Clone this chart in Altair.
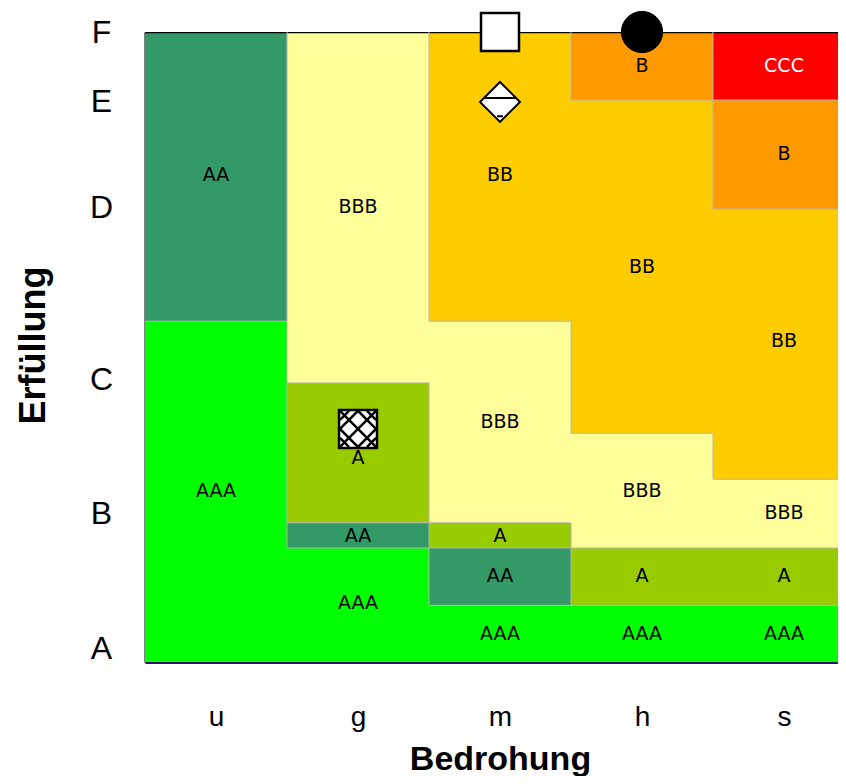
import altair as alt
import pandas as pd

# ---- data ----
threats = ["u", "g", "m", "h", "s"]                 # Bedrohung
grades = ["A", "B", "C", "D", "E", "F"]             # Erfüllung
grade_pos = [2.1, 23.5, 44.9, 72.2, 88.9, 100]      # position of grade ticks on the Erfüllung scale

cell_threat = ["u", "u",
               "g", "g", "g", "g",
               "m", "m", "m", "m", "m",
               "h", "h", "h", "h", "h",
               "s", "s", "s", "s", "s", "s"]
cell_lo = [0, 54.1,
           0, 18.1, 22.1, 44.3,
           0, 9.0, 18.1, 22.1, 54.1,
           0, 9.0, 18.1, 36.3, 89.2,
           0, 9.0, 18.1, 29.0, 71.9, 89.2]
cell_hi = [54.1, 100,
           18.1, 22.1, 44.3, 100,
           9.0, 18.1, 22.1, 54.1, 100,
           9.0, 18.1, 36.3, 89.2, 100,
           9.0, 18.1, 29.0, 71.9, 89.2, 100]
cell_rating = ["AAA", "AA",
               "AAA", "AA", "A", "BBB",
               "AAA", "AA", "A", "BBB", "BB",
               "AAA", "A", "BBB", "BB", "B",
               "AAA", "A", "BBB", "BB", "B", "CCC"]
label_y = [27.1, 77.3,
           9.4, 20.0, 32.4, 72.2,
           4.4, 13.7, 20.0, 38.1, 77.3,
           4.4, 13.7, 27.1, 62.7, 94.6,
           4.4, 13.7, 23.7, 51.0, 80.6, 94.6]

ratings = ["AAA", "AA", "A", "BBB", "BB", "B", "CCC"]
rating_colors = ["#00FF00", "#339966", "#99CC00", "#FFFF99", "#FFCC00", "#FF9900", "#FF0000"]

marker_threat = ["m", "h", "m", "g"]
marker_y = [100, 100, 88.9, 37.0]
marker_kind = ["square", "circle", "diamond", "hatched"]

Y_TOP = 100

# ---- tables ----
cells = pd.DataFrame({
    "threat": cell_threat, "lo": cell_lo, "hi": cell_hi,
    "rating": cell_rating, "ly": label_y,
})
cells["x0"] = cells["threat"].map(threats.index).astype(float)
cells["x1"] = cells["x0"] + 1
cells["xc"] = cells["x0"] + 0.5

# boundaries between differently rated regions (derived from the cells)
segs = []
for _, r in cells.iterrows():
    segs.append({"sx": r.x0, "sx2": r.x1, "sy": r.hi, "sy2": r.hi,
                 "kind": "frame" if r.hi >= Y_TOP else "inner"})


def rating_at(t, y):
    sub = cells[(cells.threat == t) & (cells.lo <= y) & (cells.hi > y)]
    return sub.rating.iloc[0]


for i in range(len(threats) - 1):
    a, b = threats[i], threats[i + 1]
    pts = sorted(set(cells[cells.threat.isin([a, b])][["lo", "hi"]].values.ravel()))
    for y0, y1 in zip(pts[:-1], pts[1:]):
        mid = (y0 + y1) / 2
        if rating_at(a, mid) != rating_at(b, mid):
            segs.append({"sx": i + 1.0, "sx2": i + 1.0, "sy": y0, "sy2": y1, "kind": "inner"})
segs = pd.DataFrame(segs)

markers = pd.DataFrame({"threat": marker_threat, "my": marker_y, "kind": marker_kind})
markers["xc"] = markers["threat"].map(threats.index).astype(float) + 0.5

PLOT_W, PLOT_H = 693, 630
COL_PX = 142
X_MAX = PLOT_W / COL_PX
xs = alt.Scale(domain=[0, X_MAX], nice=False, zero=False)
ys = alt.Scale(domain=[0, Y_TOP], nice=False, zero=False)


def ternary(conds, labels):
    expr = "''"
    for c, lab in reversed(list(zip(conds, labels))):
        expr = f"({c}) ? '{lab}' : {expr}"
    return expr


x_label_expr = ternary([f"datum.value < {i + 1}" for i in range(len(threats))], threats)
y_label_expr = ternary([f"abs(datum.value - {p}) < 0.01" for p in grade_pos], grades)

FONT = "Liberation Sans"

x_axis = alt.Axis(
    values=[i + 0.5 for i in range(len(threats))], labelExpr=x_label_expr,
    title="Bedrohung", grid=False, ticks=False,
    domain=True, domainColor="#1a1a66", domainWidth=3,
    labelFont=FONT, labelFontSize=28, labelColor="black",
    labelPadding=63, labelBaseline="alphabetic", labelFlush=False,
    titleFont=FONT, titleFontSize=34, titleFontWeight="bold", titleColor="black",
    titleX=355, titleY=107, titleBaseline="alphabetic", titleAlign="center",
)
y_axis = alt.Axis(
    values=grade_pos, labelExpr=y_label_expr,
    title="Erfüllung", grid=False, ticks=False, domain=True,
    domainColor="black", domainWidth=2,
    labelFont=FONT, labelFontSize=32, labelColor="black",
    labelAlign="center", labelBaseline="middle", labelPadding=44,
    labelFlush=False, labelOverlap=False,
    titleFont=FONT, titleFontSize=36, titleFontWeight="bold", titleColor="black",
    titleX=-101, titleY=313, titleAngle=270, titleBaseline="alphabetic", titleAlign="center",
)

rects = alt.Chart(cells).mark_rect(clip=True).encode(
    x=alt.X("x0:Q", scale=xs, axis=x_axis), x2="x1:Q",
    y=alt.Y("lo:Q", scale=ys, axis=y_axis), y2="hi:Q",
    color=alt.Color("rating:N", scale=alt.Scale(domain=ratings, range=rating_colors), legend=None),
)

lines = alt.Chart(segs).mark_rule(clip=True).encode(
    x=alt.X("sx:Q", scale=xs, axis=x_axis), x2="sx2:Q",
    y=alt.Y("sy:Q", scale=ys, axis=y_axis), y2="sy2:Q",
    stroke=alt.condition(alt.datum.kind == "frame", alt.value("black"), alt.value("#b4b4b4")),
    strokeWidth=alt.condition(alt.datum.kind == "frame", alt.value(2.5), alt.value(1)),
)

texts = alt.Chart(cells).mark_text(font="DejaVu Sans", fontSize=19).encode(
    x=alt.X("xc:Q", scale=xs, axis=x_axis),
    y=alt.Y("ly:Q", scale=ys, axis=y_axis),
    text="rating:N",
    color=alt.condition(alt.datum.rating == "CCC", alt.value("white"), alt.value("black")),
)

base_m = alt.Chart(markers).encode(
    x=alt.X("xc:Q", scale=xs, axis=x_axis),
    y=alt.Y("my:Q", scale=ys, axis=y_axis),
)

sq = base_m.transform_filter(alt.datum.kind == "square").mark_point(
    shape="square", fill="white", stroke="black", strokeWidth=2.5, size=1444, opacity=1, fillOpacity=1)
circ = base_m.transform_filter(alt.datum.kind == "circle").mark_point(
    shape="circle", fill="black", stroke="black", strokeWidth=1, size=1700, opacity=1, fillOpacity=1)
dia = base_m.transform_filter(alt.datum.kind == "diamond").mark_point(
    shape="M0,-1L1,0L0,1L-1,0Z", fill="white", stroke="black", strokeWidth=2, size=1600,
    opacity=1, fillOpacity=1)
dia_line = base_m.transform_filter(alt.datum.kind == "diamond").mark_point(
    shape="M-0.8,-0.2L0.8,-0.2M-0.15,0.72L0.15,0.72", stroke="black", strokeWidth=2, size=1600,
    opacity=1, filled=False)
hat = base_m.transform_filter(alt.datum.kind == "hatched").mark_point(
    shape="square", fill="white", stroke="black", strokeWidth=2.5, size=1444, opacity=1, fillOpacity=1)
hat_pat = base_m.transform_filter(alt.datum.kind == "hatched").mark_point(
    shape="M-1,-1L1,1M-1,1L1,-1M-1,0L0,-1L1,0L0,1Z M-1,-0.5L-0.5,-1M0.5,-1L1,-0.5M1,0.5L0.5,1M-0.5,1L-1,0.5",
    stroke="black", strokeWidth=2.5, size=1300, opacity=1, filled=False)

chart = alt.layer(rects, lines, texts, sq, circ, dia, dia_line, hat, hat_pat).properties(
    width=PLOT_W, height=PLOT_H,
    autosize=alt.AutoSizeParams(type="none"),
    padding={"left": 137, "top": 24, "right": 0, "bottom": 114},
    background="white",
).configure_view(stroke=None)

chart.save("out.html", embed_options={"renderer": "svg", "actions": False})
